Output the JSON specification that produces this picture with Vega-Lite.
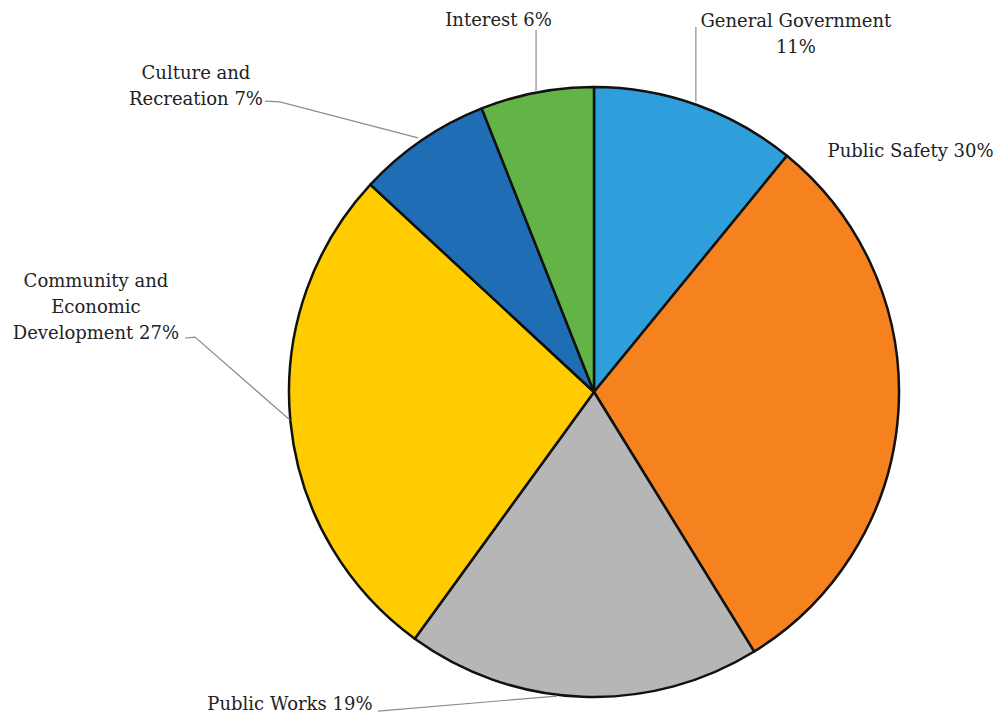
{
  "$schema": "https://vega.github.io/schema/vega-lite/v6.json",
  "width": 610,
  "height": 610,
  "autosize": {"type": "none"},
  "padding": {"left": 289, "top": 87, "right": 101, "bottom": 20},
  "background": "white",
  "config": {"view": {"stroke": null}, "font": "DejaVu Serif"},
  "datasets": {
    "slices": [
      {"category": "General Government", "share": 10.9, "ord": 1},
      {"category": "Public Safety", "share": 30.3, "ord": 2},
      {"category": "Public Works", "share": 18.8, "ord": 3},
      {"category": "Community and Economic Development", "share": 26.9, "ord": 4},
      {"category": "Culture and Recreation", "share": 7.1, "ord": 5},
      {"category": "Interest", "share": 6.0, "ord": 6}
    ],
    "labels": [
      {"label": ["Interest 6%"], "x": -0.313, "y": 1.2},
      {"label": ["General Government", "11%"], "x": 0.662, "y": 1.197},
      {"label": ["Public Safety 30%"], "x": 1.038, "y": 0.77},
      {"label": ["Culture and", "Recreation 7%"], "x": -1.305, "y": 1.026},
      {"label": ["Community and", "Economic", "Development 27%"], "x": -1.633, "y": 0.344},
      {"label": ["Public Works 19%"], "x": -0.997, "y": -1.043}
    ],
    "leaders": [
      {"line": "Interest", "step": 1, "x": -0.19, "y": 1.187},
      {"line": "Interest", "step": 2, "x": -0.19, "y": 0.984},
      {"line": "General", "step": 1, "x": 0.334, "y": 1.197},
      {"line": "General", "step": 2, "x": 0.334, "y": 0.952},
      {"line": "Culture", "step": 1, "x": -1.079, "y": 0.954},
      {"line": "Culture", "step": 2, "x": -1.03, "y": 0.951},
      {"line": "Culture", "step": 3, "x": -0.577, "y": 0.833},
      {"line": "Community", "step": 1, "x": -1.341, "y": 0.177},
      {"line": "Community", "step": 2, "x": -1.308, "y": 0.18},
      {"line": "Community", "step": 3, "x": -0.997, "y": -0.092},
      {"line": "Works", "step": 1, "x": -0.708, "y": -1.046},
      {"line": "Works", "step": 2, "x": -0.121, "y": -0.997}
    ]
  },
  "layer": [
    {
      "data": {"name": "slices"},
      "mark": {"type": "arc", "stroke": "#111111", "strokeWidth": 2.5, "strokeJoin": "round"},
      "encoding": {
        "theta": {"field": "share", "type": "quantitative", "stack": true},
        "order": {"field": "ord", "type": "quantitative"},
        "color": {
          "field": "category",
          "type": "nominal",
          "scale": {
            "domain": ["General Government", "Public Safety", "Public Works", "Community and Economic Development", "Culture and Recreation", "Interest"],
            "range": ["#2E9FDA", "#F5821F", "#B6B6B6", "#FFCC00", "#1F6EB5", "#63B446"]
          },
          "legend": null
        }
      }
    },
    {
      "data": {"name": "leaders"},
      "mark": {"type": "line", "color": "#8c8c8c", "strokeWidth": 1.2, "clip": false},
      "encoding": {
        "x": {"field": "x", "type": "quantitative", "scale": {"domain": [-1, 1], "nice": false, "zero": false}, "axis": null},
        "y": {"field": "y", "type": "quantitative", "scale": {"domain": [-1, 1], "nice": false, "zero": false}, "axis": null},
        "detail": {"field": "line", "type": "nominal"},
        "order": {"field": "step", "type": "quantitative"}
      }
    },
    {
      "data": {"name": "labels"},
      "mark": {"type": "text", "font": "DejaVu Serif", "fontSize": 18, "lineHeight": 26, "align": "center", "baseline": "alphabetic", "color": "#222222", "clip": false},
      "encoding": {
        "x": {"field": "x", "type": "quantitative", "scale": {"domain": [-1, 1], "nice": false, "zero": false}, "axis": null},
        "y": {"field": "y", "type": "quantitative", "scale": {"domain": [-1, 1], "nice": false, "zero": false}, "axis": null},
        "text": {"field": "label"}
      }
    }
  ]
}
